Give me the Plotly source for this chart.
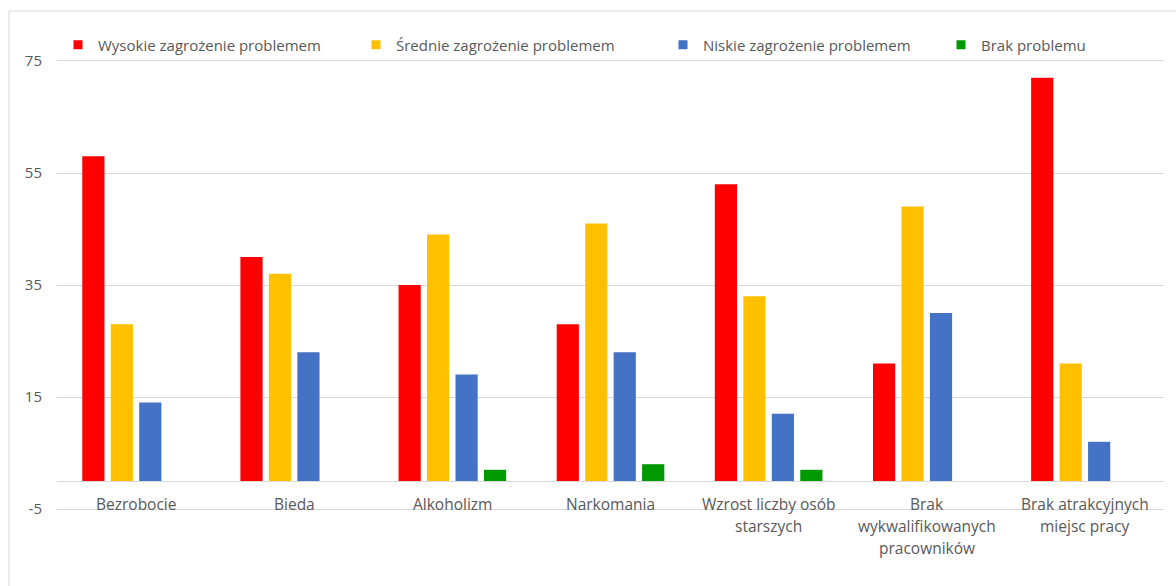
import plotly.graph_objects as go

categories = ["Bezrobocie", "Bieda", "Alkoholizm", "Narkomania",
              "Wzrost liczby osób<br>starszych",
              "Brak<br>wykwalifikowanych<br>pracowników",
              "Brak atrakcyjnych<br>miejsc pracy"]
series_names = ["Wysokie zagrożenie problemem", "Średnie zagrożenie problemem",
                "Niskie zagrożenie problemem", "Brak problemu"]
wysokie = [58, 40, 35, 28, 53, 21, 72]
srednie = [28, 37, 44, 46, 33, 49, 21]
niskie = [14, 23, 19, 23, 12, 30, 7]
brak = [0, 0, 2, 3, 2, 0, 0]
colors = ["#ff0000", "#ffc000", "#4472c4", "#009a00"]
y_ticks = [-5, 15, 35, 55, 75]
y_ticktext = ["-5", "15", "35", "55", "75"]

W, H = 1176, 586
L, R, T, B = 57, 12, 61, 77
TEXT = "#595959"
GRID = "#d9d9d9"
FONT = "Open Sans"

fig = go.Figure()
legend_x = [58, 356, 663, 941]
for i, (name, vals) in enumerate(zip(series_names, [wysokie, srednie, niskie, brak])):
    fig.add_trace(go.Bar(x=categories, y=vals, name=name, marker_color=colors[i],
                         marker_line_width=0, showlegend=False))
    lg = "legend" if i == 0 else f"legend{i+1}"
    fig.add_trace(go.Scatter(x=[None], y=[None], mode="markers", name=name,
                             marker=dict(symbol="square", size=9, color=colors[i]),
                             legend=lg, showlegend=True))
    fig.update_layout(**{lg: dict(x=legend_x[i] / W, xref="container", xanchor="left",
                                  y=1 - 45 / H, yref="container", yanchor="middle",
                                  orientation="h", bgcolor="rgba(0,0,0,0)",
                                  font=dict(family=FONT, size=15, color=TEXT))})

# category labels below the zero line
for cat in categories:
    for j, line in enumerate(cat.split("<br>")):
        fig.add_annotation(x=cat, y=0, xref="x", yref="y", text=line, showarrow=False,
                           yanchor="middle", yshift=-23 - 22 * j,
                           font=dict(family=FONT, size=15.5, color=TEXT))

pw = W - L - R
ph = H - T - B
# outer chart border
fig.add_shape(type="rect", xref="paper", yref="paper",
              x0=(9 - L) / pw, x1=(W + 5 - L) / pw,
              y0=-(H + 5 - (T + ph)) / ph, y1=(T + ph - 11) / ph,
              line=dict(color=GRID, width=1), fillcolor="rgba(0,0,0,0)", layer="below")

fig.update_layout(
    width=W, height=H,
    margin=dict(l=L, r=R, t=T, b=B, autoexpand=False),
    paper_bgcolor="white", plot_bgcolor="white",
    barmode="group", bargap=0.28, bargroupgap=0.22,
    font=dict(family=FONT, size=15, color=TEXT),
    xaxis=dict(showticklabels=False, showgrid=False, showline=True, mirror=True,
               linecolor=GRID, linewidth=1, ticks=""),
    yaxis=dict(range=[-5, 75], tickvals=y_ticks, ticktext=y_ticktext,
               showgrid=True, gridcolor=GRID,
               gridwidth=1, zeroline=True, zerolinecolor=GRID, zerolinewidth=1,
               showline=False, ticks="", ticklabelstandoff=14,
               tickfont=dict(family=FONT, size=15, color=TEXT)),
)

fig.write_html("out.html", config={"displayModeBar": False},
               post_script="document.body.style.margin='0';document.body.style.overflow='hidden';")
